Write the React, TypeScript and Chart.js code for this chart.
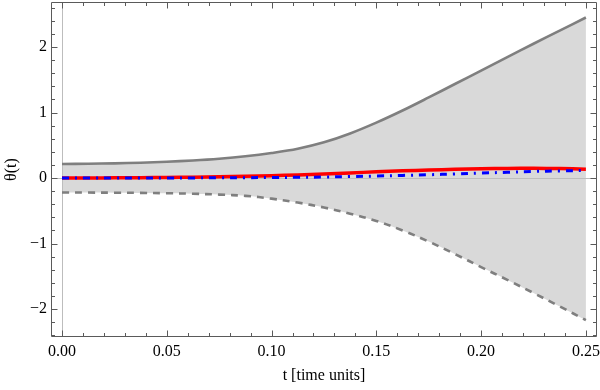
import React, { useEffect, useRef } from "react";
import { Chart, registerables } from "chart.js";

Chart.register(...registerables);

const tValues = [
  0, 0.0125, 0.025, 0.0375, 0.05, 0.0625, 0.075, 0.0875, 0.1, 0.1125, 0.125,
  0.1375, 0.15, 0.1625, 0.175, 0.1875, 0.2, 0.2125, 0.225, 0.2375, 0.25,
];
const meanTheta = [
  0, 0.001, 0.003, 0.005, 0.008, 0.012, 0.018, 0.026, 0.035, 0.047, 0.06,
  0.077, 0.095, 0.11, 0.122, 0.132, 0.14, 0.146, 0.148, 0.144, 0.135,
];
const refTheta = [
  0, 0, 0, 0.0005, 0.001, 0.002, 0.003, 0.005, 0.008, 0.011, 0.015,
  0.022, 0.03, 0.04, 0.05, 0.062, 0.075, 0.088, 0.1, 0.109, 0.115,
];
const upperBand = [
  0.215, 0.218, 0.224, 0.234, 0.248, 0.268, 0.295, 0.332, 0.382, 0.447, 0.545,
  0.68, 0.845, 1.03, 1.23, 1.435, 1.64, 1.845, 2.05, 2.25, 2.45,
];
const lowerBand = [
  -0.222, -0.222, -0.224, -0.227, -0.232, -0.24, -0.253, -0.272, -0.315, -0.375, -0.45,
  -0.545, -0.655, -0.8, -0.97, -1.16, -1.36, -1.555, -1.755, -1.96, -2.17,
];

const xMajorTicks = [0, 0.05, 0.1, 0.15, 0.2, 0.25];
const yMajorTicks = [-2, -1, 0, 1, 2];
const xMinorStep = 0.01;
const yMinorStep = 0.2;

const FONT = "'Liberation Serif', 'Times New Roman', serif";

export default function App() {
  const ref = useRef<HTMLCanvasElement | null>(null);

  useEffect(() => {
    const canvas = ref.current;
    if (!canvas) return;

    const toPts = (ys: number[]) => tValues.map((t, i) => ({ x: t, y: ys[i] }));

    const framePlugin = {
      id: "mmaFrame",
      beforeDatasetsDraw(chart: any) {
        const { ctx, chartArea: ca, scales } = chart;
        const xs = scales.x;
        const ys = scales.y;
        ctx.save();
        ctx.strokeStyle = "#bdbdbd";
        ctx.lineWidth = 1;
        const y0 = Math.round(ys.getPixelForValue(0)) + 0.5;
        const x0 = Math.round(xs.getPixelForValue(0)) + 0.5;
        ctx.beginPath();
        ctx.moveTo(ca.left, y0);
        ctx.lineTo(ca.right, y0);
        ctx.moveTo(x0, ca.top);
        ctx.lineTo(x0, ca.bottom);
        ctx.stroke();
        ctx.restore();
      },
      afterDraw(chart: any) {
        const { ctx, chartArea: ca, scales } = chart;
        const xs = scales.x;
        const ys = scales.y;
        ctx.save();
        ctx.strokeStyle = "#5a5a5a";
        ctx.lineWidth = 1;
        const L = Math.round(ca.left) + 0.5;
        const R = Math.round(ca.right) - 0.5;
        const T = Math.round(ca.top) + 0.5;
        const B = Math.round(ca.bottom) - 0.5;
        ctx.beginPath();
        ctx.rect(L, T, R - L, B - T);
        ctx.stroke();
        ctx.beginPath();
        for (let k = -1; k <= 26; k++) {
          const v = k * xMinorStep;
          if (v < xs.min || v > xs.max) continue;
          const major = k % 5 === 0;
          const len = major ? 6 : 3.5;
          const px = Math.round(xs.getPixelForValue(v)) + 0.5;
          ctx.moveTo(px, B);
          ctx.lineTo(px, B - len);
          ctx.moveTo(px, T);
          ctx.lineTo(px, T + len);
        }
        for (let k = -15; k <= 15; k++) {
          const v = k * yMinorStep;
          if (v < ys.min || v > ys.max) continue;
          const major = k % 5 === 0;
          const len = major ? 6 : 3.5;
          const py = Math.round(ys.getPixelForValue(v)) + 0.5;
          ctx.moveTo(L, py);
          ctx.lineTo(L + len, py);
          ctx.moveTo(R, py);
          ctx.lineTo(R - len, py);
        }
        ctx.stroke();
        ctx.restore();
      },
    };

    const chart = new Chart(canvas, {
      type: "line",
      data: {
        datasets: [
          {
            label: "reference",
            data: toPts(refTheta),
            borderColor: "#0000ff",
            borderWidth: 3,
            borderDash: [7, 6, 2, 6],
            pointRadius: 0,
            fill: false,
            tension: 0.35,
          },
          {
            label: "mean",
            data: toPts(meanTheta),
            borderColor: "#ff0000",
            borderWidth: 3.5,
            pointRadius: 0,
            fill: false,
            tension: 0.35,
          },
          {
            label: "upper",
            data: toPts(upperBand),
            borderColor: "#7f7f7f",
            borderWidth: 2.6,
            pointRadius: 0,
            fill: 3,
            backgroundColor: "#d9d9d9",
            tension: 0.35,
          },
          {
            label: "lower",
            data: toPts(lowerBand),
            borderColor: "#7f7f7f",
            borderWidth: 2.6,
            borderDash: [7, 6],
            pointRadius: 0,
            fill: false,
            tension: 0.35,
          },
        ],
      },
      options: {
        animation: false,
        responsive: false,
        devicePixelRatio: 1,
        layout: { padding: { left: 0, top: 2, right: 3, bottom: 0 } },
        plugins: {
          legend: { display: false },
          tooltip: { enabled: false },
          filler: { drawTime: "beforeDatasetsDraw" },
        } as any,
        scales: {
          x: {
            type: "linear",
            min: -0.00525,
            max: 0.2553,
            border: { display: false },
            grid: { display: false, drawTicks: false },
            afterBuildTicks: (s: any) => {
              s.ticks = xMajorTicks.map((v) => ({ value: v }));
            },
            afterFit: (s: any) => {
              s.height = 53;
              s.paddingLeft = 0;
              s.paddingRight = 0;
              s.paddingTop = 0;
              s.paddingBottom = 0;
            },
            ticks: {
              color: "#000",
              padding: 5,
              maxRotation: 0,
              autoSkip: false,
              font: { family: FONT, size: 16 },
              callback: (v: any) => Number(v).toFixed(2),
            },
            title: {
              display: true,
              text: "t [time units]",
              color: "#000",
              font: { family: FONT, size: 16 },
              padding: { top: 0, bottom: 5 },
            },
          },
          y: {
            type: "linear",
            min: -2.427,
            max: 2.687,
            border: { display: false },
            grid: { display: false, drawTicks: false },
            afterBuildTicks: (s: any) => {
              s.ticks = yMajorTicks.map((v) => ({ value: v }));
            },
            afterFit: (s: any) => {
              s.width = 51;
              s.paddingLeft = 0;
              s.paddingRight = 0;
              s.paddingTop = 0;
              s.paddingBottom = 0;
            },
            ticks: {
              color: "#000",
              padding: 4,
              autoSkip: false,
              font: { family: FONT, size: 16 },
              callback: (v: any) => {
                const n = Number(v);
                return n < 0 ? "\u2212" + Math.abs(n) : String(n);
              },
            },
            title: {
              display: true,
              text: "θ(t)",
              color: "#000",
              font: { family: FONT, size: 16 },
              padding: { top: 2, bottom: 0 },
            },
          },
        },
      } as any,
      plugins: [framePlugin],
    });

    return () => chart.destroy();
  }, []);

  return (
    <div style={{ position: "absolute", left: 0, top: 0, width: 600, height: 390, background: "#fff" }}>
      <canvas ref={ref} width={600} height={390} style={{ width: 600, height: 390, display: "block" }} />
    </div>
  );
}
